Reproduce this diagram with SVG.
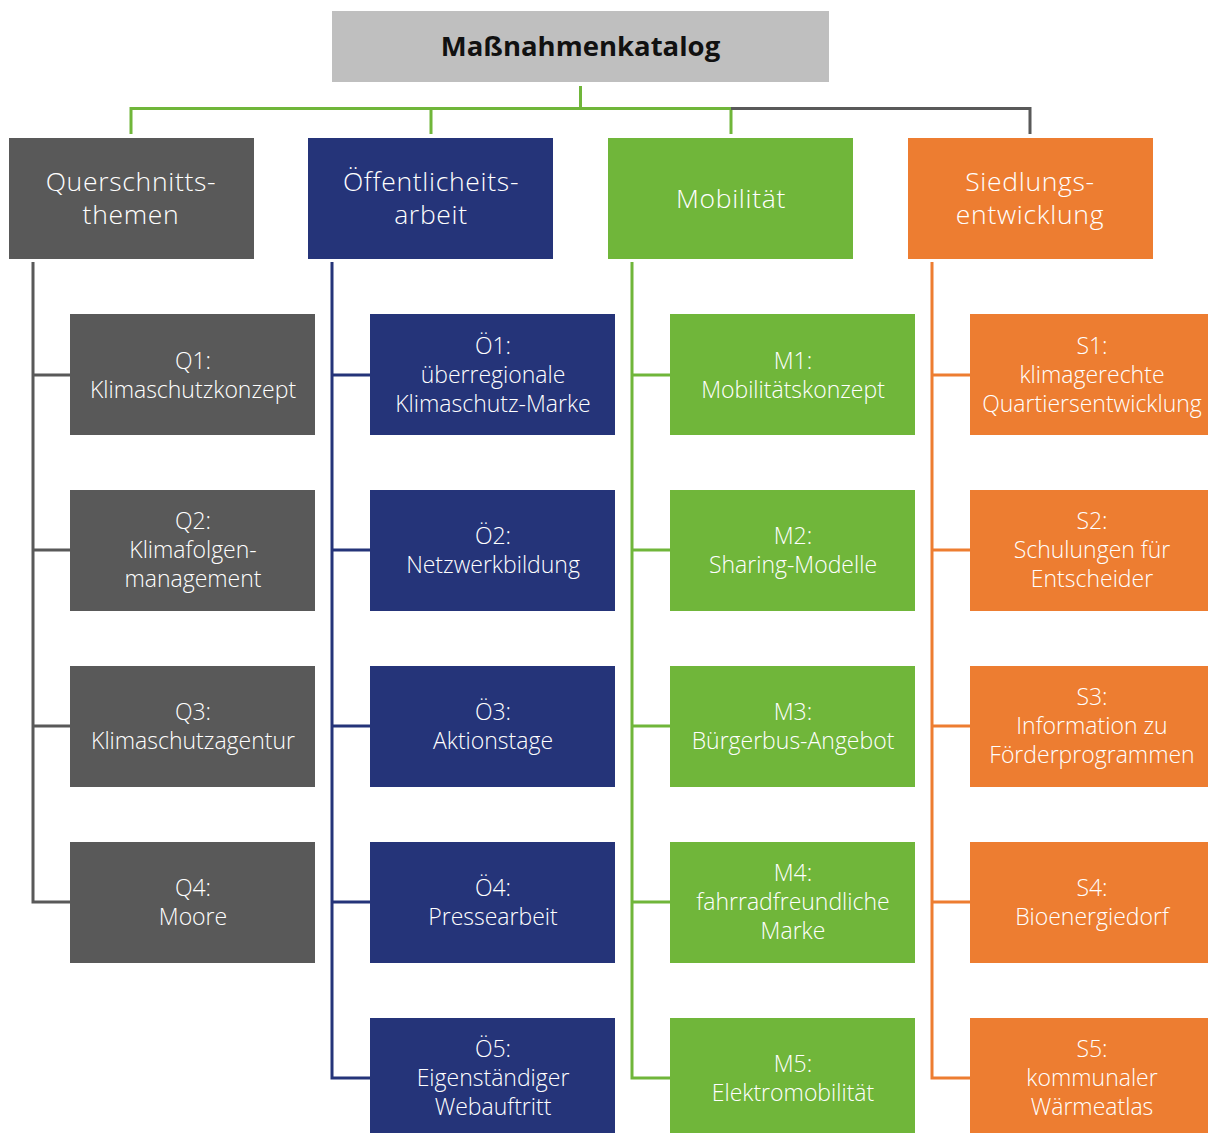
<svg xmlns="http://www.w3.org/2000/svg" width="1208" height="1133" viewBox="0 0 1208 1133">
<style>
.t{font-family:"Open Sans","Noto Sans","Liberation Sans",sans-serif;font-weight:300;fill:#fff;text-anchor:middle}
.h{font-size:26.5px;letter-spacing:0.7px}
.s{font-size:23px}
.ti{font-family:"Open Sans","Noto Sans","Liberation Sans",sans-serif;font-weight:700;font-size:27.5px;fill:#111;text-anchor:middle}
.gr{fill:#595959}.nv{fill:#253479}.gn{fill:#70b63a}.or{fill:#ed7d31}
.l{fill:none;stroke-width:3}
</style>
<rect width="1208" height="1133" fill="#fff"/>
<g id="connectors">
<path class="l" stroke="#70b63a" d="M580.5 86V108.5M131 108.5H731M131 107V134M431 107V134M731 107V134"/>
<path class="l" stroke="#595959" d="M731 108.5H1030V134"/>
<path class="l" stroke="#595959" d="M33 262V902H70M33 375H70M33 550H70M33 726H70"/>
<path class="l" stroke="#253479" d="M332 262V1078H370M332 375H370M332 550H370M332 726H370M332 902H370"/>
<path class="l" stroke="#70b63a" d="M632 262V1078H670M632 375H670M632 550H670M632 726H670M632 902H670"/>
<path class="l" stroke="#ed7d31" d="M932 262V1078H970M932 375H970M932 550H970M932 726H970M932 902H970"/>
</g>
<g id="root"><rect x="332" y="11" width="497" height="71" fill="#bfbfbf"/><text class="ti" x="580.5" y="56">Maßnahmenkatalog</text></g>
<g id="h-q"><rect class="gr" x="9" y="138" width="245" height="121"/><text class="t h" x="131" y="191">Querschnitts-</text><text class="t h" x="131" y="224">themen</text></g>
<g id="h-o"><rect class="nv" x="308" y="138" width="245" height="121"/><text class="t h" x="431" y="191">Öffentlicheits-</text><text class="t h" x="431" y="224">arbeit</text></g>
<g id="h-m"><rect class="gn" x="608" y="138" width="245" height="121"/><text class="t h" x="731" y="208">Mobilität</text></g>
<g id="h-s"><rect class="or" x="908" y="138" width="245" height="121"/><text class="t h" x="1030" y="191">Siedlungs-</text><text class="t h" x="1030" y="224">entwicklung</text></g>

<g id="q1"><rect class="gr" x="70" y="314" width="245" height="121"/><text class="t s" x="193" y="369">Q1:</text><text class="t s" x="193" y="398">Klimaschutzkonzept</text></g>
<g id="q2"><rect class="gr" x="70" y="490" width="245" height="121"/><text class="t s" x="193" y="529">Q2:</text><text class="t s" x="193" y="558">Klimafolgen-</text><text class="t s" x="193" y="587">management</text></g>
<g id="q3"><rect class="gr" x="70" y="666" width="245" height="121"/><text class="t s" x="193" y="720">Q3:</text><text class="t s" x="193" y="749">Klimaschutzagentur</text></g>
<g id="q4"><rect class="gr" x="70" y="842" width="245" height="121"/><text class="t s" x="193" y="896">Q4:</text><text class="t s" x="193" y="925">Moore</text></g>

<g id="o1"><rect class="nv" x="370" y="314" width="245" height="121"/><text class="t s" x="493" y="354">Ö1:</text><text class="t s" x="493" y="383">überregionale</text><text class="t s" x="493" y="412">Klimaschutz-Marke</text></g>
<g id="o2"><rect class="nv" x="370" y="490" width="245" height="121"/><text class="t s" x="493" y="544">Ö2:</text><text class="t s" x="493" y="573">Netzwerkbildung</text></g>
<g id="o3"><rect class="nv" x="370" y="666" width="245" height="121"/><text class="t s" x="493" y="720">Ö3:</text><text class="t s" x="493" y="749">Aktionstage</text></g>
<g id="o4"><rect class="nv" x="370" y="842" width="245" height="121"/><text class="t s" x="493" y="896">Ö4:</text><text class="t s" x="493" y="925">Pressearbeit</text></g>
<g id="o5"><rect class="nv" x="370" y="1018" width="245" height="121"/><text class="t s" x="493" y="1057">Ö5:</text><text class="t s" x="493" y="1086">Eigenständiger</text><text class="t s" x="493" y="1115">Webauftritt</text></g>

<g id="m1"><rect class="gn" x="670" y="314" width="245" height="121"/><text class="t s" x="793" y="369">M1:</text><text class="t s" x="793" y="398">Mobilitätskonzept</text></g>
<g id="m2"><rect class="gn" x="670" y="490" width="245" height="121"/><text class="t s" x="793" y="544">M2:</text><text class="t s" x="793" y="573">Sharing-Modelle</text></g>
<g id="m3"><rect class="gn" x="670" y="666" width="245" height="121"/><text class="t s" x="793" y="720">M3:</text><text class="t s" x="793" y="749">Bürgerbus-Angebot</text></g>
<g id="m4"><rect class="gn" x="670" y="842" width="245" height="121"/><text class="t s" x="793" y="881">M4:</text><text class="t s" x="793" y="910">fahrradfreundliche</text><text class="t s" x="793" y="939">Marke</text></g>
<g id="m5"><rect class="gn" x="670" y="1018" width="245" height="121"/><text class="t s" x="793" y="1072">M5:</text><text class="t s" x="793" y="1101">Elektromobilität</text></g>

<g id="s1"><rect class="or" x="970" y="314" width="245" height="121"/><text class="t s" x="1092" y="354">S1:</text><text class="t s" x="1092" y="383">klimagerechte</text><text class="t s" x="1092" y="412">Quartiersentwicklung</text></g>
<g id="s2"><rect class="or" x="970" y="490" width="245" height="121"/><text class="t s" x="1092" y="529">S2:</text><text class="t s" x="1092" y="558">Schulungen für</text><text class="t s" x="1092" y="587">Entscheider</text></g>
<g id="s3"><rect class="or" x="970" y="666" width="245" height="121"/><text class="t s" x="1092" y="705">S3:</text><text class="t s" x="1092" y="734">Information zu</text><text class="t s" x="1092" y="763">Förderprogrammen</text></g>
<g id="s4"><rect class="or" x="970" y="842" width="245" height="121"/><text class="t s" x="1092" y="896">S4:</text><text class="t s" x="1092" y="925">Bioenergiedorf</text></g>
<g id="s5"><rect class="or" x="970" y="1018" width="245" height="121"/><text class="t s" x="1092" y="1057">S5:</text><text class="t s" x="1092" y="1086">kommunaler</text><text class="t s" x="1092" y="1115">Wärmeatlas</text></g>
</svg>
